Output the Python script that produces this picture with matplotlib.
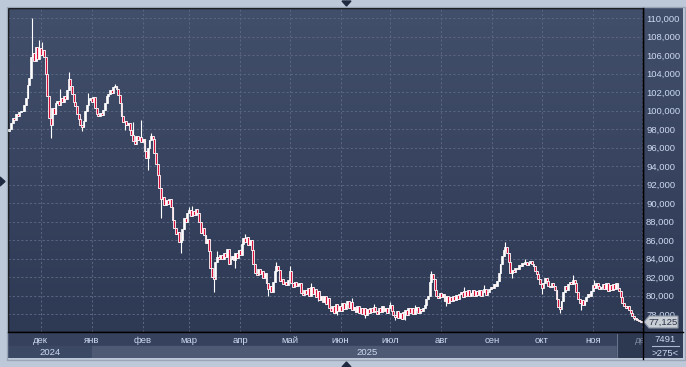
import numpy as np
import pandas as pd
import matplotlib
matplotlib.use('Agg')
import matplotlib.pyplot as plt
import matplotlib.dates as mdates
from matplotlib.patches import Rectangle, Polygon
from matplotlib.lines import Line2D
from matplotlib.ticker import FuncFormatter, MultipleLocator
from matplotlib.colors import LinearSegmentedColormap

# daily candles, prices in thousands (open = previous close)
start_date = '2024-11-12'
first_open = 97.8
closes = [
    98.0, 98.6, 99.2, 99.0, 99.6, 99.4, 99.8, 100.0, 99.9, 100.6,
    101.3, 102.8, 103.5, 105.8, 106.2, 105.4, 106.9, 105.6, 106.8, 106.0,
    106.5, 105.8, 104.0, 101.6, 99.2, 98.4, 100.3, 99.6, 100.8, 101.0,
    100.6, 101.4, 100.9, 101.6, 101.2, 102.2, 103.4, 102.6, 101.8, 100.9,
    100.5, 99.6, 99.1, 98.4, 98.2, 98.9, 100.0, 100.6, 101.1, 101.3,
    100.9, 101.5, 100.3, 99.6, 99.4, 99.7, 99.5, 100.1, 100.8, 101.6,
    101.8, 102.2, 101.9, 102.5, 102.6, 102.3, 101.7, 100.8, 99.4, 98.8,
    98.9, 98.4, 98.6, 97.9, 97.4, 96.7, 96.4, 97.2, 96.8, 97.1,
    96.6, 96.9, 95.6, 94.9, 96.0, 96.8, 97.2, 96.9, 95.4, 94.2,
    93.0, 91.6, 90.4, 90.6, 89.8, 90.3, 89.9, 90.4, 89.6, 88.2,
    87.3, 86.6, 86.9, 85.8, 86.0, 87.2, 88.4, 88.0, 88.9, 89.2,
    88.6, 89.1, 88.7, 89.4, 88.9, 87.9, 86.8, 87.3, 86.5, 85.7,
    86.1, 84.8, 83.0, 82.0, 81.8, 83.6, 84.2, 83.9, 84.4, 84.0,
    84.6, 84.2, 85.0, 83.4, 84.0, 84.3, 83.8, 84.6, 84.1, 84.9,
    84.4, 85.6, 86.2, 85.8, 86.3, 85.5, 86.0, 84.9, 83.4, 82.4,
    82.2, 82.9, 82.3, 82.6, 81.9, 82.4, 81.3, 80.7, 81.0, 80.4,
    81.5, 82.6, 83.2, 82.8, 81.6, 81.8, 81.2, 81.5, 81.1, 81.7,
    82.6, 81.3, 80.9, 81.5, 81.0, 81.2, 81.4, 80.3, 80.1, 80.6,
    80.2, 80.8, 80.0, 80.9, 80.2, 80.7, 79.8, 80.5, 79.5, 80.0,
    79.3, 80.0, 79.1, 79.7, 78.7, 78.3, 78.9, 78.1, 79.1, 78.3,
    78.9, 78.3, 79.2, 78.5, 79.1, 79.4, 78.6, 79.3, 78.4, 78.8,
    78.2, 78.9, 78.1, 78.7, 78.0, 78.6, 77.9, 78.5, 78.1, 78.7,
    78.2, 78.8, 78.3, 78.0, 78.6, 78.2, 78.9, 78.3, 78.7, 78.1,
    78.6, 79.0, 78.3, 77.9, 77.7, 78.3, 77.6, 78.1, 77.5, 78.2,
    78.4, 77.9, 78.6, 78.1, 78.7, 78.0, 78.4, 78.8, 78.1, 78.5,
    78.3, 78.6, 79.0, 79.6, 79.9, 81.5, 82.3, 81.8, 80.6, 80.0,
    79.7, 80.3, 79.8, 80.2, 79.4, 79.9, 79.2, 79.8, 79.4, 80.0,
    79.5, 80.1, 79.6, 80.2, 80.4, 79.8, 80.5, 80.0, 80.6, 79.9,
    80.3, 80.6, 80.0, 80.5, 80.1, 80.6, 80.0, 80.4, 80.7, 80.1,
    80.4, 80.7, 80.9, 80.8, 81.2, 81.0, 81.6, 82.4, 83.4, 84.3,
    84.9, 85.2, 84.6, 83.6, 82.4, 82.8, 82.5, 83.0, 82.9, 83.3,
    83.2, 83.5, 83.4, 83.6, 83.3, 83.5, 83.7, 83.4, 83.2, 82.7,
    82.3, 81.8, 81.2, 80.8, 81.4, 81.9, 81.6, 81.0, 80.9, 81.3,
    81.0, 80.6, 79.6, 78.8, 78.5, 79.4, 80.4, 81.0, 80.6, 81.2,
    81.5, 81.2, 81.7, 81.3, 80.4, 79.6, 79.2, 79.5, 79.0, 79.4,
    79.8, 80.2, 79.9, 80.5, 81.1, 80.8, 81.3, 81.0, 80.7, 80.9,
    81.2, 80.7, 81.3, 80.5, 81.1, 80.6, 81.2, 80.7, 81.3, 80.8,
    80.5, 79.8, 79.2, 78.9, 78.7, 78.9, 78.4, 78.1, 77.8, 77.6,
    77.5, 77.3, 77.2, 77.125,
]
# candles whose wick sticks out beyond the body
wick_highs = {14: 110.0, 18: 107.6, 20: 107.4, 31: 102.3, 36: 104.2, 48: 101.9,
              64: 102.9, 75: 98.8, 80: 99.0, 86: 97.6, 109: 89.6, 111: 89.7,
              126: 84.8, 143: 86.6, 162: 83.6, 170: 83.2, 183: 81.3, 208: 79.7,
              221: 79.1, 231: 79.3, 246: 79.0, 256: 82.7, 276: 80.9, 288: 81.1,
              301: 85.8, 313: 84.0, 342: 82.2, 355: 81.7}
wick_lows = {25: 97.0, 44: 97.8, 70: 97.9, 84: 93.6, 92: 88.4, 104: 84.6,
             124: 80.4, 137: 83.0, 157: 80.0, 187: 79.4, 199: 77.9, 216: 77.6,
             234: 77.3, 240: 77.4, 265: 78.9, 305: 81.9, 323: 80.2, 334: 78.1,
             347: 78.4, 379: 77.3}

month_names = ['янв', 'фев', 'мар', 'апр', 'май', 'июн',
               'июл', 'авг', 'сен', 'окт', 'ноя', 'дек']
year_labels = ['2024', '2025']
last_price = '77,125'
counter_top = '7491'
counter_bottom = '>275<'

W, H = 686, 367
def box(x0, y0, x1, y1):
    # pixel box (from top-left) -> figure fraction rect
    return [x0 / W, 1 - y1 / H, (x1 - x0) / W, (y1 - y0) / H]
def pt(x, y):
    return (x / W, 1 - y / H)

dates = pd.date_range(start_date, periods=len(closes), freq='D')
xs = mdates.date2num(dates)
close = np.array(closes) * 1000
opens = np.concatenate([[first_open * 1000], close[:-1]])
highs = np.maximum(opens, close)
lows = np.minimum(opens, close)
for i, v in wick_highs.items():
    highs[i] = v * 1000
for i, v in wick_lows.items():
    lows[i] = v * 1000

dec1 = mdates.date2num(pd.Timestamp('2024-12-01'))
ppd = 1.648
xlim = (dec1 - 32.7 / ppd, dec1 + 602.3 / ppd)
ylim = (110000 - 314 / 9.25 * 1000, 110000 + 10 / 9.25 * 1000)

fig = plt.figure(figsize=(W / 100, H / 100), dpi=100)
fig.patch.set_facecolor('#bdc9d9')
fig.patches.append(Rectangle(pt(6.5, 360), 678 / W, 353.5 / H, transform=fig.transFigure,
                             fill=False, edgecolor='#9aa6b8', lw=1))

grad = np.linspace(0, 1, 256).reshape(-1, 1)
bg_cmap = LinearSegmentedColormap.from_list('bg', ['#424f6b', '#2e3954'])

# right price panel
axr = fig.add_axes(box(643, 8, 683, 332))
axr.imshow(grad, cmap=bg_cmap, aspect='auto', extent=[0, 1, 0, 1], transform=axr.transAxes)
axr.set_axis_off()

# bottom-right counter box
axc = fig.add_axes(box(643, 332, 683, 358))
axc.set_facecolor('#313c57')
axc.set_xticks([]); axc.set_yticks([])
for s in axc.spines.values():
    s.set_visible(False)

font = 'Liberation Sans'
txt_col = '#ccd9f0'

# main chart
ax = fig.add_axes(box(8, 8, 643, 332))
ax.imshow(grad, cmap=bg_cmap, aspect='auto', extent=[0, 1, 0, 1],
          transform=ax.transAxes, zorder=0)
ax.set_xlim(xlim)
ax.set_ylim(ylim)
ax.yaxis.set_major_locator(MultipleLocator(2000))
ax.yaxis.set_major_formatter(FuncFormatter(lambda v, p: f'{v:,.0f}'))
ax.yaxis.tick_right()
ax.tick_params(axis='y', length=0, pad=2.2, labelsize=6.8, labelcolor=txt_col)
for lab in ax.get_yticklabels():
    lab.set_fontfamily(font)
ax.xaxis.set_major_locator(mdates.MonthLocator())
ax.tick_params(axis='x', length=0, labelbottom=False)
ax.grid(True, color='#5a6782', linestyle=(0, (2.2, 2.2)), linewidth=0.7, zorder=1)
ax.set_axisbelow(True)
for s in ax.spines.values():
    s.set_color('black')
    s.set_linewidth(1.0)

up = close >= opens
ax.vlines(xs, lows, highs, color='white', linewidth=0.8, zorder=2)
ax.bar(xs[up], (close - opens)[up], bottom=opens[up], width=1.15, color='none',
       edgecolor='white', linewidth=0.6, zorder=3)
ax.bar(xs[~up], (close - opens)[~up], bottom=opens[~up], width=1.15, color='#d8123c',
       edgecolor='white', linewidth=0.6, zorder=4)

# bottom date band
axb = fig.add_axes(box(8, 332, 643, 358))
axb.set_xlim(xlim)
axb.set_ylim(26, 0)
axb.set_facecolor('#36425d')
axb.set_xticks([]); axb.set_yticks([])
for s in axb.spines.values():
    s.set_visible(False)
jan1 = mdates.date2num(pd.Timestamp('2025-01-01'))
axb.add_patch(Rectangle((xlim[0], 13.5), jan1 - xlim[0], 13, color='#3c4965', zorder=1))
axb.add_patch(Rectangle((jan1, 13.5), xlim[1] - jan1, 13, color='#4e5a74', zorder=1))
axb.add_patch(Rectangle((609 / 635, 0), 1, 1, transform=axb.transAxes,
                        color='#2d3851', zorder=2))
axb.axvline(xlim[0] + (609 / 635) * (xlim[1] - xlim[0]), ymin=0.03, ymax=0.93,
            color='#66728c', lw=0.8, zorder=3)

for d in pd.date_range('2024-12-01', '2025-12-01', freq='MS'):
    x = mdates.date2num(d)
    col = '#7f8aa3' if d.year == 2025 and d.month == 12 else txt_col
    axb.text(x, 8.5, month_names[d.month - 1], ha='center', va='center', fontsize=6.8,
             family=font, color=col, zorder=4, clip_on=True)
axb.text((xlim[0] + jan1) / 2, 20.5, year_labels[0], ha='center', va='center',
         fontsize=6.8, family=font, color=txt_col, zorder=4)
axb.text((jan1 + xlim[1]) / 2, 20.5, year_labels[1], ha='center', va='center',
         fontsize=6.8, family=font, color=txt_col, zorder=4)

# border lines through the lower band
fig.lines.append(Line2D([8 / W, 683 / W], [1 - 332 / H] * 2, transform=fig.transFigure,
                        color='black', lw=1))
fig.lines.append(Line2D([643 / W] * 2, [1 - 8 / H, 1 - 359 / H], transform=fig.transFigure,
                        color='black', lw=1))

# counter text
fig.text(*pt(665, 340), counter_top, ha='center', va='center', fontsize=6.8,
         family=font, color=txt_col)
fig.lines.append(Line2D([652 / W, 679 / W], [1 - 346 / H] * 2, transform=fig.transFigure,
                        color='#aab7cf', lw=0.8))
fig.text(*pt(665, 353), counter_bottom, ha='center', va='center', fontsize=6.8,
         family=font, color=txt_col)

# last price label
fig.patches.append(Polygon([pt(644, 322), pt(649, 316), pt(678, 316), pt(678, 328),
                            pt(649, 328)], closed=True, transform=fig.transFigure,
                           facecolor='#c9cdd4', edgecolor='#8893a6', lw=0.8))
fig.text(*pt(663.5, 322.5), last_price, ha='center', va='center', fontsize=6.8,
         family=font, color='#27324a')

# scroll markers
mk = '#1f2a40'
fig.patches.append(Polygon([pt(342, 1), pt(351, 1), pt(346.5, 6)], transform=fig.transFigure,
                           color=mk))
fig.patches.append(Polygon([pt(342, 367), pt(351, 367), pt(346.5, 362)],
                           transform=fig.transFigure, color=mk))
fig.patches.append(Polygon([pt(0, 177), pt(0, 186), pt(5, 181.5)], transform=fig.transFigure,
                           color=mk))

fig.savefig('out.png', dpi=100, facecolor=fig.get_facecolor())
